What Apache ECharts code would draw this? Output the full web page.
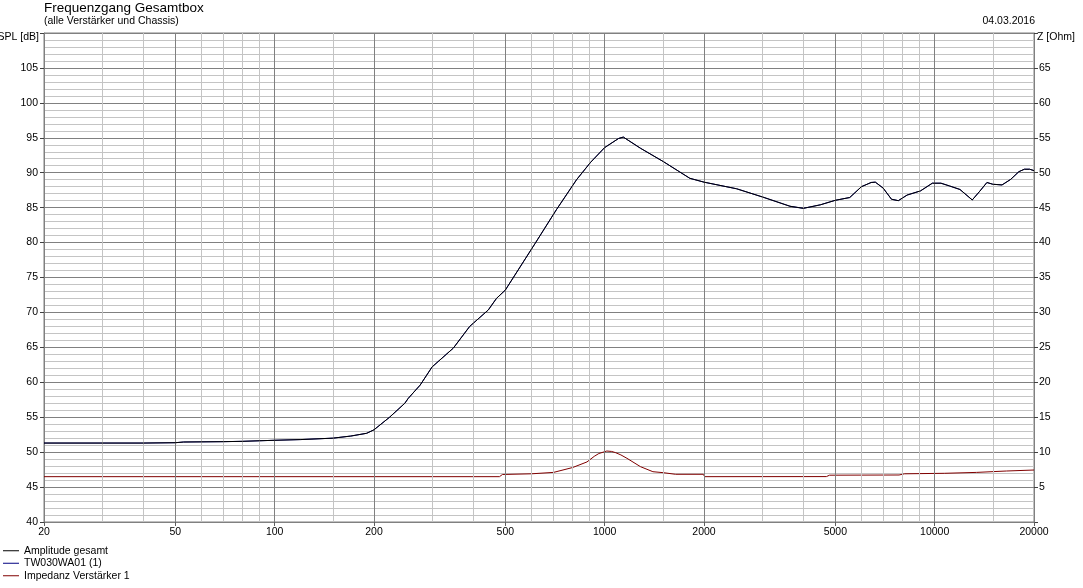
<!DOCTYPE html>
<html><head><meta charset="utf-8">
<script src="https://cdn.jsdelivr.net/npm/echarts@6/dist/echarts.min.js"></script>
<style>html,body{margin:0;padding:0;background:#fff}#c{width:1083px;height:588px}</style>
</head><body><div id="c"></div>
<script>
// ---- data ----
const ampFreq = [20,30,40,50,53,70,80,100,120,150,170,190,200,223,248,254,276,300,348,390,444,470,500,616,714,822,907,1000,1102,1139,1284,1505,1690,1812,2000,2512,3020,3644,4000,4500,5000,5530,6000,6420,6610,6980,7400,7760,8250,9060,9840,10450,11100,11930,13000,13700,14400,15000,16000,17000,18000,18700,19400,20000];
const ampSpl  = [51.3,51.3,51.3,51.35,51.45,51.5,51.55,51.7,51.8,52.0,52.3,52.7,53.2,55.0,57.0,57.7,59.6,62.2,64.9,68.0,70.35,72.0,73.2,79.9,84.7,89.0,91.5,93.6,94.9,95.1,93.5,91.6,90.1,89.2,88.65,87.7,86.5,85.2,84.9,85.4,86.05,86.45,88.0,88.6,88.65,87.8,86.2,86.0,86.8,87.4,88.5,88.5,88.1,87.6,86.1,87.35,88.6,88.35,88.25,89.05,90.15,90.5,90.5,90.3];
// single chassis: its response coincides with the total response
const twFreq = ampFreq;
const twSpl  = ampSpl;
const impFreq = [20,480,490,600,700,800,884,930,960,1015,1050,1080,1120,1168,1284,1400,1505,1640,1990,2010,4700,4800,7800,8100,10700,13400,16500,20000];
const impOhm  = [6.49,6.49,6.8,6.9,7.1,7.8,8.6,9.4,9.8,10.16,10.1,9.92,9.6,9.12,7.92,7.2,7.06,6.83,6.83,6.49,6.5,6.7,6.73,6.9,6.97,7.1,7.3,7.44];
const xLabelValues = [20,50,100,200,500,1000,2000,5000,10000,20000];
const xMajorGrid = [50,100,200,500,1000,2000,5000,10000];
const xMinorGrid = [30,40,60,70,80,90,150,300,400,600,700,800,900,1500,3000,4000,6000,7000,8000,9000,15000];
const seriesNames = ['Amplitude gesamt','TW030WA01 (1)','Impedanz Verstärker 1'];

const FONT = 'Liberation Sans, Arial, sans-serif';
const zip = (a,b) => a.map((v,i) => [v, b[i]]);

const gridLines = [];
xMinorGrid.forEach(v => gridLines.push({xAxis: v, lineStyle: {color: '#c4c4c4', width: 1, type: 'solid'}}));
xMajorGrid.forEach(v => gridLines.push({xAxis: v, lineStyle: {color: '#808080', width: 1, type: 'solid'}}));

const chart = echarts.init(document.getElementById('c'), null, {renderer: 'canvas'});
chart.setOption({
  animation: false,
  backgroundColor: '#fff',
  textStyle: {fontFamily: FONT},
  title: [
    {text: 'Frequenzgang Gesamtbox', left: 44, top: 1, padding: 0, textStyle: {fontSize: 13.5, fontWeight: 'normal', color: '#000', fontFamily: FONT}},
    {text: '(alle Verstärker und Chassis)', left: 44, top: 16, padding: 0, textStyle: {fontSize: 10.5, fontWeight: 'normal', color: '#000', fontFamily: FONT}},
    {text: '04.03.2016', right: 48, top: 16, padding: 0, textStyle: {fontSize: 10.5, fontWeight: 'normal', color: '#000', fontFamily: FONT}}
  ],
  legend: {
    data: seriesNames, orient: 'vertical', left: 3, top: 544.5, padding: 0,
    icon: 'rect', itemWidth: 16, itemHeight: 1, itemGap: 0, selectedMode: false,
    textStyle: {fontSize: 10.5, lineHeight: 12.5, color: '#000', fontFamily: FONT}
  },
  grid: {left: 44, right: 49, top: 33, bottom: 66, containLabel: false, outerBoundsMode: 'none', show: true, borderColor: '#808080', borderWidth: 1, backgroundColor: '#fff'},
  xAxis: {
    type: 'log', logBase: 10, min: 20, max: 20000,
    axisLine: {show: true, lineStyle: {color: '#808080'}},
    splitLine: {show: false}, minorSplitLine: {show: false},
    axisTick: {show: true, length: 4, customValues: xLabelValues, lineStyle: {color: '#606060'}},
    axisLabel: {show: true, customValues: xLabelValues, margin: 5, fontSize: 10.5, color: '#000', fontFamily: FONT, showMinLabel: true, showMaxLabel: true, hideOverlap: false, formatter: v => String(Math.round(v))}
  },
  yAxis: [
    {
      type: 'value', min: 40, max: 110, interval: 5, position: 'left',
      name: 'SPL [dB]', nameLocation: 'end', nameGap: -4,
      nameTextStyle: {align: 'right', verticalAlign: 'middle', padding: [0, 5, 0, 0], fontSize: 10.5, color: '#000', fontFamily: FONT},
      axisLine: {show: true, lineStyle: {color: '#808080'}},
      axisTick: {show: true, length: 4, lineStyle: {color: '#404040'}},
      axisLabel: {margin: 6, fontSize: 10.5, color: '#000', fontFamily: FONT, formatter: v => (v >= 110 ? '' : String(v))},
      splitLine: {show: true, lineStyle: {color: '#808080', width: 1}},
      minorTick: {show: false, splitNumber: 5},
      minorSplitLine: {show: true, lineStyle: {color: '#c4c4c4', width: 1}}
    },
    {
      type: 'value', min: 0, max: 70, interval: 5, position: 'right',
      name: 'Z [Ohm]', nameLocation: 'end', nameGap: -4,
      nameTextStyle: {align: 'left', verticalAlign: 'middle', padding: [0, 0, 0, 3], fontSize: 10.5, color: '#000', fontFamily: FONT},
      axisLine: {show: true, lineStyle: {color: '#808080'}},
      axisTick: {show: true, length: 4, lineStyle: {color: '#404040'}},
      axisLabel: {margin: 5, fontSize: 10.5, color: '#000', fontFamily: FONT, formatter: v => (v <= 0 || v >= 70 ? '' : String(v))},
      splitLine: {show: false}
    }
  ],
  series: [
    {
      name: 'gridHelper', type: 'line', xAxisIndex: 0, yAxisIndex: 0, z: 1,
      data: [[20, 40]], showSymbol: false, symbol: 'none', lineStyle: {opacity: 0}, silent: true,
      markLine: {silent: true, symbol: ['none', 'none'], animation: false, label: {show: false}, emphasis: {disabled: true}, data: gridLines}
    },
    {name: seriesNames[1], type: 'line', xAxisIndex: 0, yAxisIndex: 0, z: 3, data: zip(twFreq, twSpl), showSymbol: false, symbol: 'none', color: '#000080', lineStyle: {width: 1, color: '#000080'}, silent: true},
    {name: seriesNames[2], type: 'line', xAxisIndex: 0, yAxisIndex: 1, z: 4, data: zip(impFreq, impOhm), showSymbol: false, symbol: 'none', color: '#800000', lineStyle: {width: 1, color: '#800000'}, silent: true},
    {name: seriesNames[0], type: 'line', xAxisIndex: 0, yAxisIndex: 0, z: 5, data: zip(ampFreq, ampSpl), showSymbol: false, symbol: 'none', color: '#000000', lineStyle: {width: 1, color: '#000000'}, silent: true}
  ]
});
</script>
</body></html>
